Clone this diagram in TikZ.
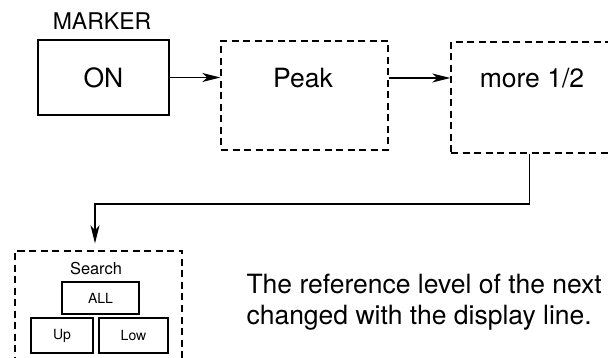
\documentclass[tikz,border=0pt]{standalone}
\usepackage{fontspec}
\setmainfont{TeX Gyre Heros}
\usetikzlibrary{arrows.meta,calc}

\begin{document}
\begin{tikzpicture}[x=1pt,y=-1pt,>={Stealth[length=18pt,width=9pt,inset=5pt]},
  solidbox/.style={draw,line width=1.5pt,inner sep=0pt},
  dashbox/.style={draw,line width=1.4pt,dash pattern=on 7pt off 4.5pt,inner sep=0pt},
  flow/.style={->,line width=1.5pt},
  bigtext/.style={font=\fontsize{26.5}{26}\selectfont},
  smalltext/.style={font=\fontsize{14}{14}\selectfont}]
\useasboundingbox(0,0)rectangle(608,358);
\clip(0,0)rectangle(608,358);
% top row
\node[font=\fontsize{23}{23}\selectfont](marker)at(102,21){MARKER};
\node[solidbox,bigtext,minimum width=131pt,minimum height=75pt](on)at(103.5,77.5){ON};
\node[dashbox,minimum width=167pt,minimum height=109pt](peak)at(304.5,95.5){};
\node[bigtext](peaklbl)at(303,78){Peak};
\node[dashbox,minimum width=209pt,minimum height=111pt](more)at(555.5,97.5){};
\node[bigtext](morelbl)at(532,78){more 1/2};
\draw[flow](on.east)--(on.east-|peak.west);
\draw[flow](peaklbl-|peak.east)--(peaklbl-|more.west);
% search softkey
\node[dashbox,minimum width=167pt,minimum height=124pt](search)at(98.5,313){};
\node[font=\fontsize{16.4}{16}\selectfont](searchlbl)at(96,269){Search};
\node[solidbox,smalltext,minimum width=77pt,minimum height=32pt](all)at(100.5,298){ALL};
\node[solidbox,smalltext,minimum width=62pt,minimum height=35pt](up)at(62,335.5){Up};
\node[solidbox,smalltext,minimum width=69pt,minimum height=35pt](low)at(133.5,335.5){Low};
\coordinate(bend)at(95,204);
\draw[flow,shorten >=7pt]($(more.south west)+(79,0)$)|-(bend)--(bend|-search.north);
% note
\node[bigtext,anchor=west,align=left](note)at(243,302){The reference level of the next\\[5pt]changed with the display line.};
\end{tikzpicture}
\end{document}
